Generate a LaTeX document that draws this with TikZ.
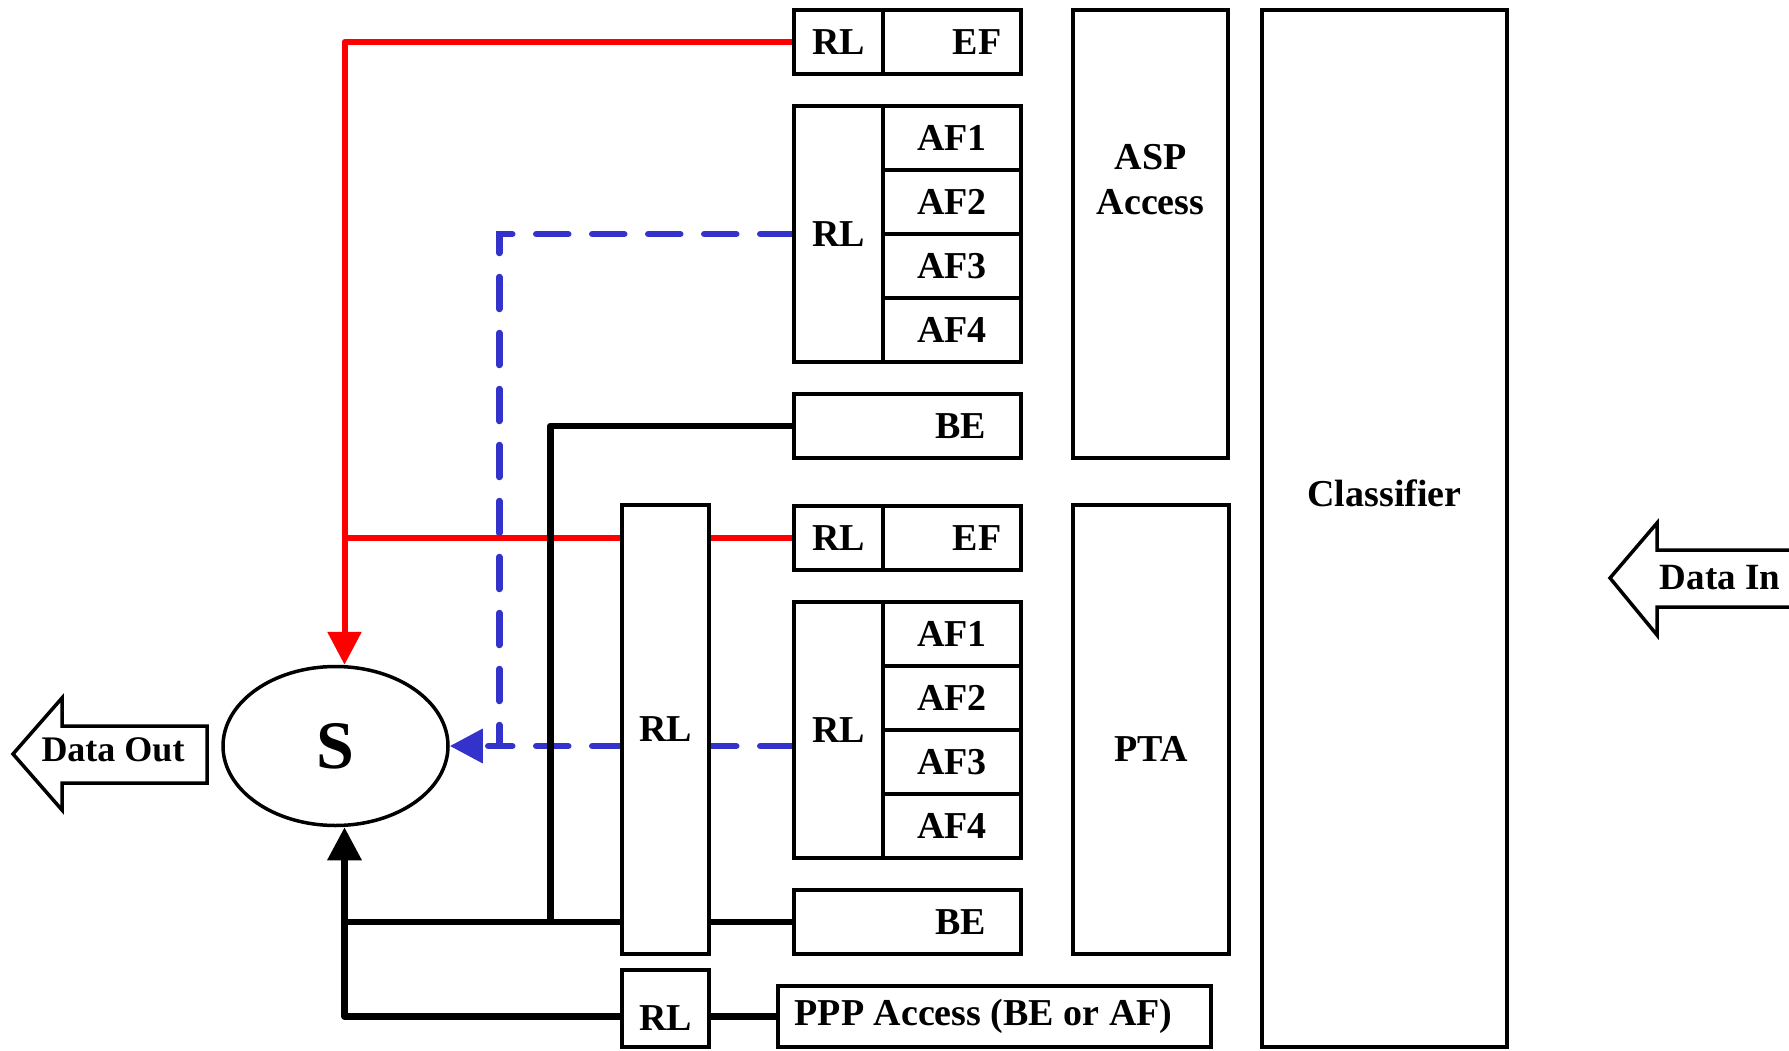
\documentclass[tikz,border=0pt]{standalone}
\usepackage{fontspec}
\setmainfont{Liberation Serif}
\usetikzlibrary{arrows.meta,shapes.geometric,backgrounds}
\definecolor{qblue}{RGB}{51,51,204}

\begin{document}
\begin{tikzpicture}[x=1pt,y=-1pt,font=\bfseries\fontsize{38}{45}\selectfont,
  box/.style={draw,line width=3.5pt,fill=white,inner sep=0pt},
  rlcell/.style={box,minimum width=89pt,minimum height=64pt},
  qcell/.style={box,minimum width=138pt,minimum height=64pt},
  bebox/.style={box,minimum width=227pt,minimum height=64pt},
  redline/.style={red,line width=6pt,line join=round},
  blueline/.style={qblue,line width=6.5pt,line cap=round,dash pattern=on 32pt off 24pt},
  blackline/.style={black,line width=6.5pt,line cap=round,line join=round},
  tip/.style={-{Triangle[length=33pt,width=33pt]}}]
\useasboundingbox (0,0) rectangle (1789,1050);
\clip (0,0) rectangle (1789,1050);
% ASP queues
\node[rlcell] (ef1rl) at (838.5,42) {RL};
\node[qcell,label={[xshift=25pt]center:EF}] (ef1) at (952,42) {};
\node[rlcell,minimum height=256pt] (af1rl) at (838.5,234) {RL};
\node[qcell] (af11) at (952,138) {AF1};
\node[qcell] (af12) at (952,202) {AF2};
\node[qcell] (af13) at (952,266) {AF3};
\node[qcell] (af14) at (952,330) {AF4};
\node[bebox,label={[xshift=53pt]center:BE}] (be1) at (907.5,426) {};
\node[box,minimum width=155pt,minimum height=448pt,
  label={[yshift=54pt,align=center]center:ASP\\Access}] (asp) at (1150.5,234) {};
% PTA queues
\node[rlcell] (ef2rl) at (838.5,538) {RL};
\node[qcell,label={[xshift=25pt]center:EF}] (ef2) at (952,538) {};
\node[rlcell,minimum height=256pt] (af2rl) at (838.5,730) {RL};
\node[qcell] (af21) at (952,634) {AF1};
\node[qcell] (af22) at (952,698) {AF2};
\node[qcell] (af23) at (952,762) {AF3};
\node[qcell] (af24) at (952,826) {AF4};
\node[bebox,label={[xshift=53pt]center:BE}] (be2) at (907.5,922) {};
\node[box,minimum width=156pt,minimum height=449pt,
  label={[yshift=-19pt]center:PTA}] (pta) at (1151,729.5) {};
% shared limiters, PPP, classifier
\node[box,minimum width=87pt,minimum height=449pt] (bigrl) at (665.5,729.5) {RL};
\node[box,minimum width=87pt,minimum height=77pt,
  label={[yshift=-10pt]center:RL}] (rlp) at (665.5,1008.5) {};
\node[box,minimum width=433pt,minimum height=61pt,
  label={[xshift=-11pt]center:PPP Access (BE or AF)}] (ppp) at (994.5,1016.5) {};
\node[box,minimum width=245pt,minimum height=1037pt,
  label={[yshift=35pt]center:Classifier}] (cls) at (1384.5,528.5) {};
% scheduler
\node[ellipse,draw,line width=3.5pt,inner sep=0pt,minimum width=225pt,minimum height=159pt,
  font=\bfseries\fontsize{68}{68}\selectfont] (s) at (335.5,746) {S};
% block arrows
\draw[line width=3.5pt] (13,754)--(62,698)--(62,726)--(207,726)--(207,783)--(62,783)--(62,810)--cycle;
\node[font=\bfseries\fontsize{36}{36}\selectfont] (dout) at (113,750) {Data Out};
\draw[line width=3.5pt] (1610,578)--(1657,523)--(1657,550)--(1800,550)--(1800,607)--(1657,607)--(1657,635)--cycle;
\node[font=\bfseries\fontsize{37}{37}\selectfont] (din) at (1720,578) {Data In};
% connectors
\begin{pgfonlayer}{background}
\coordinate (sn) at ([xshift=9pt]s.north);
\coordinate (ss) at ([xshift=9pt]s.south);
\draw[redline,tip] (ef1rl.west) -| (sn);
\draw[redline] (ef2rl.west) -- (ef2rl.west -| sn);
\draw[blueline,tip] (af1rl.west) -- ++(-293,0) |- (s.east);
\draw[blueline] (af2rl.west |- s.east) -- ++(-293,0);
\draw[blackline] (be1.west) -- ++(-242,0) |- (be2.west);
\draw[blackline,tip] (be2.west) -| (ss);
\draw[blackline] (ppp.west) -| (be2.west -| ss);
\end{pgfonlayer}
\end{tikzpicture}
\end{document}
